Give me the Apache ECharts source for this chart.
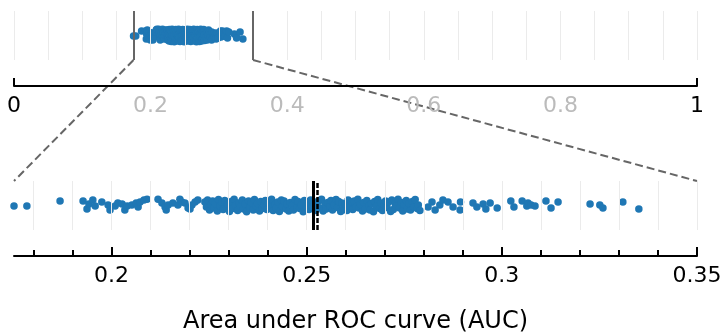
<!DOCTYPE html>
<html><head><meta charset="utf-8">
<script src="https://cdn.jsdelivr.net/npm/echarts@6/dist/echarts.min.js"></script>
<style>html,body{margin:0;padding:0;background:#fff}#c{width:721px;height:336px}</style>
</head><body><div id="c"></div>
<script>
// ---- data (AUC values, with vertical jitter in [-1,1] panel units) ----
const aucLeft = [0.1750, 0.1783, 0.1868, 0.1927, 0.1937, 0.1942, 0.1952, 0.1958, 0.1975, 0.1991, 0.1996, 0.2009, 0.2016];
const jitLeft = [-0.02, -0.02, 0.18, 0.18, -0.14, 0.06, 0.22, -0.02, 0.14, 0.02, -0.18, -0.02, 0.10];

const aucMid = [0.2027, 0.2034, 0.2040, 0.2052, 0.2063, 0.2068, 0.2073, 0.2083, 0.2091, 0.2119, 0.2129, 0.2137, 0.2140, 0.2145, 0.2157, 0.2170, 0.2175, 0.2180, 0.2188, 0.2196, 0.2201, 0.2206, 0.2214, 0.2221];
const jitMid = [0.06, -0.18, -0.02, 0.02, 0.10, -0.06, 0.14, 0.22, 0.26, 0.26, 0.10, -0.06, -0.18, 0.02, 0.10, 0.02, 0.26, 0.14, 0.10, -0.10, -0.14, 0.02, 0.14, 0.22];

const aucCore = [
0.2239, 0.2243, 0.2246, 0.2251, 0.2254, 0.2259, 0.2262, 0.2266, 0.2271, 0.2274,
0.2278, 0.2283, 0.2286, 0.2290, 0.2295, 0.2298, 0.2302, 0.2307, 0.2310, 0.2314,
0.2318, 0.2323, 0.2326, 0.2330, 0.2335, 0.2338, 0.2342, 0.2346, 0.2351, 0.2354,
0.2358, 0.2363, 0.2366, 0.2370, 0.2374, 0.2379, 0.2382, 0.2386, 0.2391, 0.2394,
0.2398, 0.2402, 0.2407, 0.2410, 0.2414, 0.2419, 0.2422, 0.2426, 0.2430, 0.2435,
0.2438, 0.2442, 0.2447, 0.2450, 0.2454, 0.2458, 0.2463, 0.2466, 0.2470, 0.2475,
0.2478, 0.2482, 0.2486, 0.2491, 0.2494, 0.2498, 0.2503, 0.2506, 0.2510, 0.2514,
0.2519, 0.2522, 0.2526, 0.2531, 0.2534, 0.2538, 0.2542, 0.2547, 0.2550, 0.2554,
0.2559, 0.2562, 0.2566, 0.2570, 0.2575, 0.2578, 0.2582, 0.2587, 0.2590, 0.2594,
0.2598, 0.2603, 0.2606, 0.2610, 0.2615, 0.2618, 0.2622, 0.2626, 0.2631, 0.2634,
0.2638, 0.2643, 0.2646, 0.2650, 0.2654, 0.2659, 0.2662, 0.2666, 0.2671, 0.2674,
0.2678, 0.2682, 0.2687, 0.2690, 0.2694, 0.2699, 0.2702, 0.2706, 0.2710, 0.2715,
0.2718, 0.2722, 0.2727, 0.2730, 0.2734, 0.2738, 0.2743, 0.2746, 0.2750, 0.2755,
0.2758, 0.2762, 0.2766, 0.2771, 0.2774, 0.2778, 0.2783, 0.2786, 0.2790];
const jitCore = [
0.14, -0.06, 0.22, -0.18, 0.02, 0.18, -0.10, 0.08, -0.22, 0.24,
-0.02, 0.12, -0.16, 0.20, -0.08, 0.04, -0.24, 0.16, -0.12, 0.26,
0.00, -0.20, 0.10, -0.04, 0.22, -0.14, 0.06, -0.26, 0.18, -0.08,
0.12, -0.18, 0.24, -0.02, 0.08, -0.22, 0.16, -0.12, 0.02, 0.20,
-0.16, 0.10, -0.06, 0.26, -0.20, 0.04, -0.10, 0.14, -0.24, 0.22,
-0.04, 0.18, -0.14, 0.06, -0.22, 0.12, 0.00, -0.18, 0.24, -0.08,
0.16, -0.12, 0.02, -0.26, 0.20, -0.02, 0.10, -0.16, 0.22, -0.06,
0.14, -0.20, 0.04, 0.18, -0.10, 0.26, -0.22, 0.08, -0.14, 0.12,
-0.04, 0.20, -0.18, 0.02, 0.24, -0.08, 0.16, -0.24, 0.10, -0.12,
0.06, -0.20, 0.22, -0.02, 0.14, -0.16, 0.18, -0.06, 0.26, -0.10,
0.04, -0.22, 0.12, -0.14, 0.20, 0.00, -0.18, 0.08, -0.26, 0.16,
-0.04, 0.24, -0.12, 0.10, -0.20, 0.02, 0.18, -0.08, 0.14, -0.24,
0.22, -0.16, 0.06, -0.02, 0.26, -0.10, 0.12, -0.22, 0.04, 0.20,
-0.14, 0.08, -0.18, 0.16, -0.06, 0.24, -0.12, 0.02, -0.20];

const aucRight = [0.2811, 0.2821, 0.2829, 0.2841, 0.2849, 0.2862, 0.2875, 0.2893, 0.2894, 0.2926, 0.2936, 0.2952, 0.2959, 0.2970, 0.2988, 0.3023, 0.3031, 0.3052, 0.3064, 0.3067, 0.3075, 0.3085, 0.3113, 0.3126, 0.3144, 0.3226, 0.3251, 0.3259, 0.3310, 0.3351];
const jitRight = [-0.06, 0.14, -0.18, 0.02, 0.22, 0.14, -0.06, -0.18, 0.14, 0.10, -0.06, 0.06, -0.14, 0.10, -0.10, 0.18, -0.06, 0.18, -0.02, 0.10, 0.02, -0.02, 0.18, -0.10, 0.14, 0.06, 0.02, -0.10, 0.14, -0.14];

const refLines = [0.2516, 0.2527];          // solid, dashed
const zoomRange = [0.175, 0.35];
const topGrid = [0,0.05,0.1,0.15,0.2,0.25,0.3,0.35,0.4,0.45,0.5,0.55,0.6,0.65,0.7,0.75,0.8,0.85,0.9,0.95,1];
const topLabels = [0, 0.2, 0.4, 0.6, 0.8, 1];
const topTicks = [0, 1];
const botGrid = [0.18,0.19,0.2,0.21,0.22,0.23,0.24,0.25,0.26,0.27,0.28,0.29,0.3,0.31,0.32,0.33,0.34,0.35];
const botMajor = [0.2, 0.25, 0.3, 0.35];
const botMinor = [0.18,0.19,0.21,0.22,0.23,0.24,0.26,0.27,0.28,0.29,0.31,0.32,0.33,0.34];
const xTitle = 'Area under ROC curve (AUC)';

// ---- build ----
const auc = aucLeft.concat(aucMid, aucCore, aucRight);
const jit = jitLeft.concat(jitMid, jitCore, jitRight);
const pts = auc.map((v, i) => [v, jit[i]]);

const FONT = 'DejaVu Sans';
const BLUE = '#1f77b4';
const gridStyle = { color: '#ebebeb', width: 1, type: 'solid' };
function vlines(vals, style) {
  return { silent: true, precision: 6, symbol: ['none', 'none'], label: { show: false }, animation: false,
    lineStyle: style, emphasis: { disabled: true }, data: vals.map(v => ({ xAxis: v })) };
}

const chart = echarts.init(document.getElementById('c'), null, { renderer: 'canvas' });
const option = {
  animation: false,
  backgroundColor: '#fff',
  grid: [
    { left: 14, top: 11, width: 683, height: 49, containLabel: false, outerBoundsMode: 'none' },
    { left: 14, top: 181, width: 683, height: 49, containLabel: false, outerBoundsMode: 'none' }
  ],
  xAxis: [
    { gridIndex: 0, type: 'value', min: 0, max: 1, position: 'bottom', offset: 26,
      axisLine: { show: true, onZero: false, lineStyle: { color: '#000', width: 2 } },
      axisTick: { show: true, inside: true, length: 8, customValues: topTicks, lineStyle: { color: '#000', width: 2 } },
      axisLabel: { customValues: topLabels, margin: 9, fontSize: 22, fontFamily: FONT, hideOverlap: false,
        color: v => (Number(v) === 0 || Number(v) === 1) ? '#000' : '#bbbbbb' },
      splitLine: { show: false } },
    { gridIndex: 1, type: 'value', min: zoomRange[0], max: zoomRange[1], position: 'bottom', offset: 26,
      name: xTitle, nameLocation: 'middle', nameGap: 54,
      nameTextStyle: { fontSize: 24, fontFamily: FONT, color: '#000' },
      axisLine: { show: true, onZero: false, lineStyle: { color: '#000', width: 2 } },
      axisTick: { show: true, inside: true, length: 9, customValues: botMajor, lineStyle: { color: '#000', width: 2 } },
      axisLabel: { customValues: botMajor, margin: 9, fontSize: 22, fontFamily: FONT, color: '#000', hideOverlap: false },
      splitLine: { show: false } },
    { gridIndex: 1, type: 'value', min: zoomRange[0], max: zoomRange[1], position: 'bottom', offset: 26,
      axisLine: { show: false, onZero: false },
      axisTick: { show: true, inside: true, length: 6, customValues: botMinor, lineStyle: { color: '#000', width: 2 } },
      axisLabel: { show: false },
      splitLine: { show: false } }
  ],
  yAxis: [
    { gridIndex: 0, type: 'value', min: -1, max: 1, show: false },
    { gridIndex: 1, type: 'value', min: -1, max: 1, show: false }
  ],
  series: [
    { type: 'scatter', xAxisIndex: 0, yAxisIndex: 0, data: [], z: 1, markLine: vlines(topGrid, gridStyle) },
    { type: 'scatter', xAxisIndex: 0, yAxisIndex: 0, data: [], z: 2,
      markLine: vlines(zoomRange, { color: '#666', width: 2, type: 'solid' }) },
    { type: 'scatter', xAxisIndex: 0, yAxisIndex: 0, data: pts, z: 3, symbolSize: 7.5,
      itemStyle: { color: BLUE, opacity: 1 }, silent: true },
    { type: 'scatter', xAxisIndex: 1, yAxisIndex: 1, data: [], z: 1, markLine: vlines(botGrid, gridStyle) },
    { type: 'scatter', xAxisIndex: 1, yAxisIndex: 1, data: pts, z: 3, symbolSize: 7.5,
      itemStyle: { color: BLUE, opacity: 1 }, silent: true },
    { type: 'scatter', xAxisIndex: 1, yAxisIndex: 1, data: [], z: 4,
      markLine: { silent: true, precision: 6, symbol: ['none', 'none'], label: { show: false }, animation: false,
        data: [
          { xAxis: refLines[0], lineStyle: { color: '#000', width: 3, type: 'solid' } },
          { xAxis: refLines[1], lineStyle: { color: '#000', width: 2.5, type: [5, 2] } }
        ] } }
  ]
};
chart.setOption(option);

// dashed connector lines from the zoom box to the zoomed panel (via library coordinate conversion)
const a1 = chart.convertToPixel({ xAxisIndex: 0, yAxisIndex: 0 }, [zoomRange[0], -1]);
const a2 = chart.convertToPixel({ xAxisIndex: 1, yAxisIndex: 1 }, [zoomRange[0], 1]);
const b1 = chart.convertToPixel({ xAxisIndex: 0, yAxisIndex: 0 }, [zoomRange[1], -1]);
const b2 = chart.convertToPixel({ xAxisIndex: 1, yAxisIndex: 1 }, [zoomRange[1], 1]);
const dashStyle = { stroke: '#666', lineWidth: 2, lineDash: [8, 4] };
chart.setOption({ graphic: [
  { type: 'line', silent: true, shape: { x1: a1[0], y1: a1[1], x2: a2[0], y2: a2[1] }, style: dashStyle },
  { type: 'line', silent: true, shape: { x1: b1[0], y1: b1[1], x2: b2[0], y2: b2[1] }, style: dashStyle }
] });
</script>
</body></html>
